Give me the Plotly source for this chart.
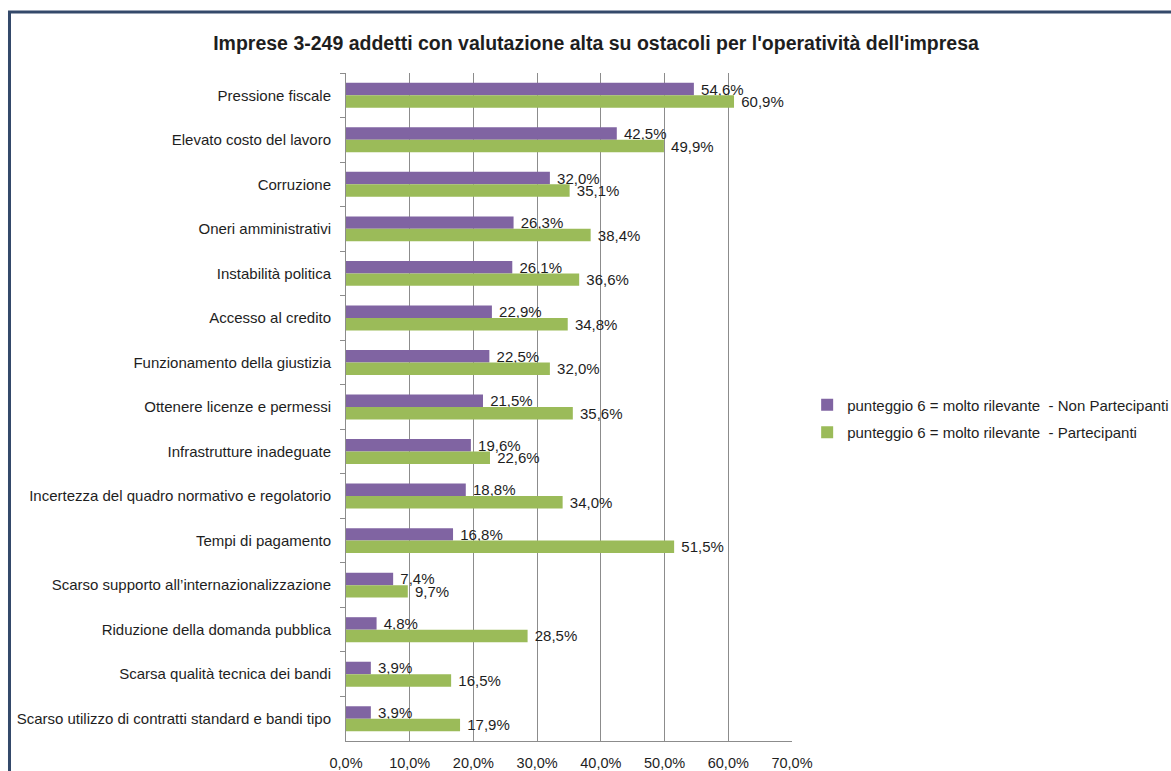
import plotly.graph_objects as go

categories = [
    "Pressione fiscale",
    "Elevato costo del lavoro",
    "Corruzione",
    "Oneri amministrativi",
    "Instabilità politica",
    "Accesso al credito",
    "Funzionamento della giustizia",
    "Ottenere licenze e permessi",
    "Infrastrutture inadeguate",
    "Incertezza del quadro normativo e regolatorio",
    "Tempi di pagamento",
    "Scarso supporto all’internazionalizzazione",
    "Riduzione della domanda pubblica",
    "Scarsa qualità tecnica dei bandi",
    "Scarso utilizzo di contratti standard e bandi tipo",
]
non_partecipanti = [54.6, 42.5, 32.0, 26.3, 26.1, 22.9, 22.5, 21.5, 19.6, 18.8, 16.8, 7.4, 4.8, 3.9, 3.9]
partecipanti = [60.9, 49.9, 35.1, 38.4, 36.6, 34.8, 32.0, 35.6, 22.6, 34.0, 51.5, 9.7, 28.5, 16.5, 17.9]
x_ticks = [0, 10, 20, 30, 40, 50, 60, 70]

FONT = "Liberation Sans, Arial, sans-serif"
TXT = "#1e1e1e"
GRID = "#8c8c8c"

fig = go.Figure()
series = [
    ("punteggio 6 = molto rilevante  - Non Partecipanti", non_partecipanti, "#8064A2", "np"),
    ("punteggio 6 = molto rilevante  - Partecipanti", partecipanti, "#9BBB59", "p"),
]
for name, vals, color, grp in series:
    fig.add_trace(
        go.Bar(
            y=categories,
            x=vals,
            name=name,
            legendgroup=grp,
            orientation="h",
            marker=dict(color=color, line=dict(width=0)),
            texttemplate="\u00a0%{x:.1f}%",
            textposition="outside",
            constraintext="none",
            cliponaxis=False,
            textfont=dict(family=FONT, size=15, color=TXT),
        )
    )

fig.update_layout(
    width=1171,
    height=771,
    separators=",.",
    barmode="group",
    bargap=0.44,
    bargroupgap=0,
    paper_bgcolor="white",
    plot_bgcolor="white",
    font=dict(family=FONT, size=15, color=TXT),
    title=dict(
        text="<b>Imprese 3-249 addetti con valutazione alta su ostacoli per l'operatività dell'impresa</b>",
        x=0.509,
        xanchor="center",
        y=0.944,
        yanchor="middle",
        font=dict(family=FONT, size=19.5, color=TXT),
    ),
    margin=dict(l=346, r=379, t=73, b=30, autoexpand=False),
    xaxis=dict(
        range=[0, 70],
        tickvals=x_ticks,
        ticktext=[f"{v},0%" for v in x_ticks],
        showgrid=True,
        gridcolor=GRID,
        gridwidth=1,
        showline=True,
        linecolor=GRID,
        linewidth=1,
        zeroline=False,
        ticks="",
        ticklabelstandoff=9,
        tickfont=dict(size=14.5, color=TXT),
    ),
    yaxis=dict(
        autorange="reversed",
        showgrid=False,
        showline=True,
        linecolor=GRID,
        linewidth=1,
        ticks="outside",
        tickson="boundaries",
        ticklen=5,
        tickcolor=GRID,
        ticklabelstandoff=11,
        tickfont=dict(size=15, color=TXT),
    ),
    legend=dict(
        x=1.034,
        xanchor="left",
        y=0.4828,
        yanchor="middle",
        traceorder="grouped",
        tracegroupgap=5,
        font=dict(size=15, color=TXT),
        bgcolor="rgba(0,0,0,0)",
        itemwidth=30,
    ),
    shapes=[
        dict(
            type="rect",
            xref="paper",
            yref="paper",
            x0=-0.7545,
            x1=2.0,
            y0=-0.5,
            y1=1.0913,
            line=dict(color="#34496A", width=3),
            fillcolor="rgba(0,0,0,0)",
            layer="below",
        )
    ],
)

# the page's default 8px body margin would shift the chart; drop it
fig.write_html(
    "out.html",
    config={"displayModeBar": False},
    post_script="document.body.style.margin='0';",
)
